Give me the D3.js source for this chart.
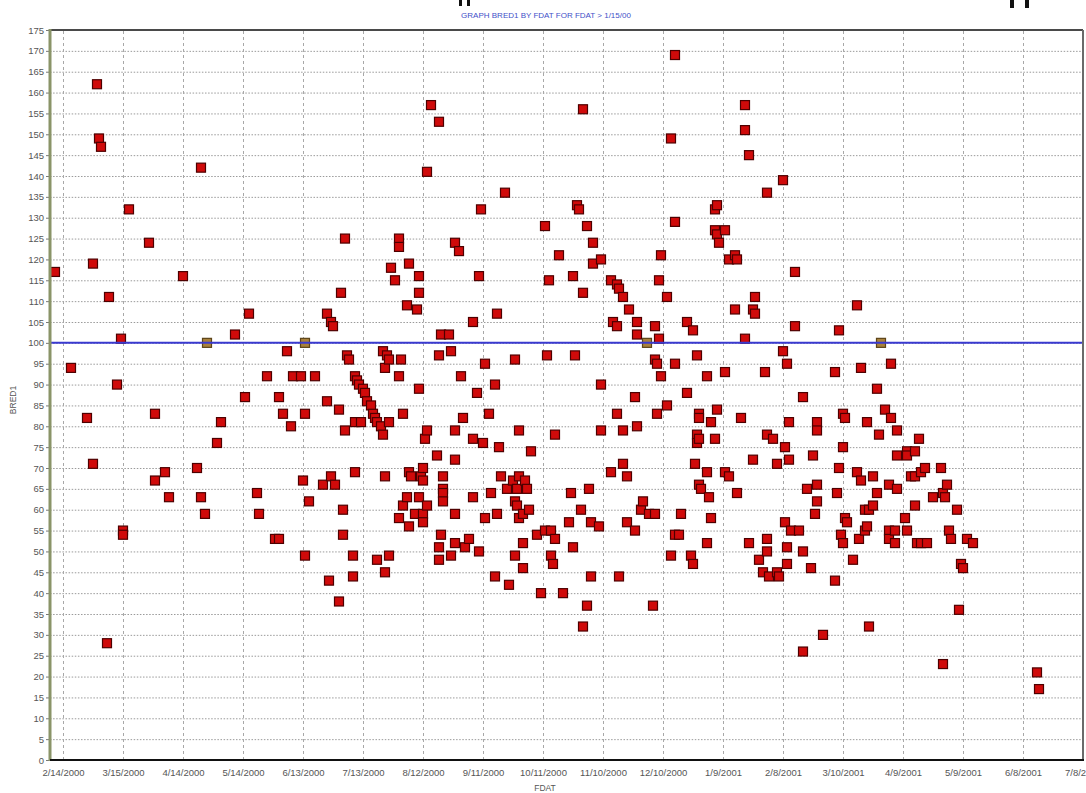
<!DOCTYPE html>
<html>
<head>
<meta charset="utf-8">
<script src="https://cdn.jsdelivr.net/npm/d3@7"></script>
<style>
  body { margin: 0; background: #fff; }
  svg { display: block; }
  text { font-family: Arial, "Liberation Sans", sans-serif; }
</style>
</head>
<body>
<div id="chart"></div>
<script>
// FDAT dates, one line per month
var fdat = [
  "2/10/2000","2/18/2000","2/26/2000","2/29/2000","2/29/2000",
  "3/2/2000","3/3/2000","3/4/2000","3/7/2000","3/8/2000","3/12/2000","3/14/2000","3/15/2000","3/15/2000","3/18/2000","3/28/2000","3/31/2000","3/31/2000",
  "4/5/2000","4/7/2000","4/14/2000","4/21/2000","4/23/2000","4/23/2000","4/25/2000","4/26/2000",
  "5/1/2000","5/3/2000","5/10/2000","5/15/2000","5/17/2000","5/21/2000","5/22/2000","5/26/2000","5/30/2000",
  "6/1/2000","6/1/2000","6/3/2000","6/5/2000","6/7/2000","6/8/2000","6/12/2000","6/13/2000","6/14/2000","6/14/2000","6/14/2000","6/16/2000","6/19/2000","6/23/2000","6/25/2000","6/25/2000","6/26/2000","6/27/2000","6/27/2000","6/28/2000","6/29/2000",
  "7/1/2000","7/1/2000","7/2/2000","7/3/2000","7/3/2000","7/4/2000","7/4/2000","7/5/2000","7/6/2000","7/8/2000","7/8/2000","7/9/2000","7/9/2000","7/9/2000","7/10/2000","7/11/2000","7/12/2000","7/13/2000","7/14/2000","7/15/2000","7/17/2000","7/18/2000","7/19/2000","7/20/2000","7/20/2000","7/22/2000","7/23/2000","7/23/2000","7/24/2000","7/24/2000","7/24/2000","7/25/2000","7/26/2000","7/26/2000","7/26/2000","7/27/2000","7/29/2000","7/31/2000","7/31/2000","7/31/2000","7/31/2000",
  "8/1/2000","8/2/2000","8/2/2000","8/4/2000","8/4/2000","8/5/2000","8/5/2000","8/5/2000","8/6/2000","8/8/2000","8/9/2000","8/10/2000","8/10/2000","8/10/2000","8/10/2000","8/11/2000","8/12/2000","8/12/2000","8/12/2000","8/12/2000","8/13/2000","8/14/2000","8/14/2000","8/14/2000","8/16/2000","8/19/2000","8/20/2000","8/20/2000","8/20/2000","8/20/2000","8/21/2000","8/21/2000","8/22/2000","8/22/2000","8/22/2000","8/22/2000","8/25/2000","8/26/2000","8/26/2000","8/28/2000","8/28/2000","8/28/2000","8/28/2000","8/28/2000","8/30/2000","8/31/2000",
  "9/1/2000","9/2/2000","9/4/2000","9/6/2000","9/6/2000","9/6/2000","9/8/2000","9/9/2000","9/9/2000","9/10/2000","9/11/2000","9/12/2000","9/12/2000","9/14/2000","9/15/2000","9/17/2000","9/17/2000","9/18/2000","9/18/2000","9/19/2000","9/20/2000","9/22/2000","9/23/2000","9/24/2000","9/26/2000","9/27/2000","9/27/2000","9/27/2000","9/28/2000","9/28/2000","9/29/2000","9/29/2000","9/29/2000",
  "10/1/2000","10/1/2000","10/1/2000","10/2/2000","10/3/2000","10/4/2000","10/5/2000","10/8/2000","10/10/2000","10/12/2000","10/12/2000","10/13/2000","10/14/2000","10/15/2000","10/15/2000","10/16/2000","10/17/2000","10/17/2000","10/19/2000","10/21/2000","10/24/2000","10/25/2000","10/26/2000","10/26/2000","10/27/2000","10/28/2000","10/29/2000","10/30/2000","10/31/2000","10/31/2000","10/31/2000",
  "11/2/2000","11/2/2000","11/3/2000","11/4/2000","11/4/2000","11/5/2000","11/5/2000","11/8/2000","11/9/2000","11/9/2000","11/9/2000","11/14/2000","11/14/2000","11/15/2000","11/17/2000","11/17/2000","11/17/2000","11/18/2000","11/18/2000","11/20/2000","11/20/2000","11/20/2000","11/22/2000","11/22/2000","11/23/2000","11/26/2000","11/26/2000","11/27/2000","11/27/2000","11/27/2000","11/29/2000","11/30/2000",
  "12/2/2000","12/3/2000","12/5/2000","12/6/2000","12/6/2000","12/6/2000","12/7/2000","12/7/2000","12/8/2000","12/8/2000","12/9/2000","12/9/2000","12/12/2000","12/12/2000","12/14/2000","12/14/2000","12/16/2000","12/16/2000","12/16/2000","12/16/2000","12/18/2000","12/19/2000","12/22/2000","12/22/2000","12/24/2000","12/25/2000","12/25/2000","12/26/2000","12/27/2000","12/27/2000","12/27/2000","12/28/2000","12/28/2000","12/28/2000","12/28/2000","12/29/2000",
  "1/1/2001","1/1/2001","1/1/2001","1/2/2001","1/3/2001","1/3/2001","1/5/2001","1/5/2001","1/5/2001","1/6/2001","1/6/2001","1/6/2001","1/7/2001","1/10/2001","1/10/2001","1/10/2001","1/12/2001","1/12/2001","1/15/2001","1/15/2001","1/16/2001","1/16/2001","1/18/2001","1/20/2001","1/20/2001","1/20/2001","1/22/2001","1/22/2001","1/24/2001","1/24/2001","1/25/2001","1/25/2001","1/27/2001","1/29/2001","1/30/2001","1/31/2001","1/31/2001","1/31/2001","1/31/2001",
  "2/1/2001","2/3/2001","2/5/2001","2/5/2001","2/6/2001","2/8/2001","2/8/2001","2/9/2001","2/9/2001","2/10/2001","2/10/2001","2/10/2001","2/11/2001","2/11/2001","2/12/2001","2/14/2001","2/14/2001","2/16/2001","2/18/2001","2/18/2001","2/18/2001","2/20/2001","2/22/2001","2/23/2001","2/24/2001","2/25/2001","2/25/2001","2/25/2001","2/25/2001","2/28/2001",
  "3/6/2001","3/6/2001","3/7/2001","3/8/2001","3/8/2001","3/9/2001","3/10/2001","3/10/2001","3/10/2001","3/11/2001","3/11/2001","3/12/2001","3/15/2001","3/17/2001","3/17/2001","3/18/2001","3/19/2001","3/19/2001","3/21/2001","3/21/2001","3/22/2001","3/22/2001","3/23/2001","3/23/2001","3/25/2001","3/25/2001","3/27/2001","3/27/2001","3/28/2001","3/29/2001","3/31/2001",
  "4/2/2001","4/2/2001","4/2/2001","4/3/2001","4/3/2001","4/5/2001","4/5/2001","4/6/2001","4/6/2001","4/6/2001","4/10/2001","4/11/2001","4/11/2001","4/11/2001","4/13/2001","4/15/2001","4/15/2001","4/15/2001","4/16/2001","4/17/2001","4/18/2001","4/18/2001","4/20/2001","4/21/2001","4/24/2001","4/28/2001","4/29/2001","4/29/2001","4/30/2001",
  "5/1/2001","5/2/2001","5/3/2001","5/6/2001","5/7/2001","5/8/2001","5/9/2001","5/11/2001","5/14/2001",
  "6/15/2001","6/16/2001"
];

// BRED1 values, same order as fdat
var bred1 = [
  117,94,82,119,71,
  162,149,147,28,111,90,101,55,54,132,124,83,67,
  69,63,116,70,142,63,59,100,
  76,81,102,87,107,64,59,92,53,
  87,53,83,98,80,92,92,67,100,83,49,62,92,66,107,86,43,105,68,104,66,
  84,38,112,60,54,125,79,97,96,49,44,69,92,81,91,90,81,89,88,86,85,83,82,81,48,80,78,98,94,68,45,97,96,81,49,118,115,92,125,123,58,
  96,83,61,109,63,119,69,56,68,59,108,116,112,89,63,68,70,67,59,57,77,141,79,61,157,73,153,97,51,48,102,54,68,65,64,62,102,98,49,124,79,72,59,52,122,92,
  82,51,53,105,77,63,88,116,50,132,76,95,58,83,64,90,44,107,59,75,68,136,65,42,67,96,62,49,65,61,79,68,58,
  59,52,46,67,65,60,74,54,40,128,55,97,115,55,49,47,78,53,121,40,57,64,116,51,97,133,132,60,156,112,32,
  128,37,65,57,44,124,119,56,120,90,79,115,69,105,114,104,83,113,44,111,79,71,68,57,108,87,55,105,102,80,60,62,
  100,59,37,104,96,59,95,83,115,101,121,92,111,85,149,49,169,129,95,54,54,59,105,88,49,103,47,71,97,78,76,83,82,77,66,65,
  92,69,52,63,81,58,132,127,77,133,126,84,124,127,93,69,120,68,121,108,120,64,82,157,151,101,145,52,108,72,111,107,48,45,93,136,78,53,50,
  44,77,71,45,44,139,98,75,57,95,51,47,81,72,55,117,104,55,87,50,26,65,46,73,59,81,79,66,62,30,
  93,43,64,103,70,54,83,75,52,82,58,57,48,109,69,53,94,67,60,55,81,56,60,32,68,61,89,64,78,100,84,
  66,55,53,95,82,55,52,79,73,65,58,74,73,55,68,74,68,61,52,77,69,52,70,52,63,70,64,23,63,
  66,55,53,60,36,47,46,53,52,
  21,17
];

var xTickLabels = ["2/14/2000","3/15/2000","4/14/2000","5/14/2000","6/13/2000","7/13/2000","8/12/2000","9/11/2000",
  "10/11/2000","11/10/2000","12/10/2000","1/9/2001","2/8/2001","3/10/2001","4/9/2001","5/9/2001","6/8/2001","7/8/2001"];
var yTickValues = [0,5,10,15,20,25,30,35,40,45,50,55,60,65,70,75,80,85,90,95,100,105,110,115,120,125,130,135,140,145,150,155,160,165,170,175];
var refValue = 100;
var chartTitle = "GRAPH BRED1 BY FDAT FOR FDAT > 1/15/00";

(function () {
  var W = 1086, H = 793;
  var plotLeft = 50, plotRight = 1083, plotTop = 30, plotBottom = 760;

  var parse = d3.timeParse("%m/%d/%Y");
  var fmt = d3.timeFormat("%-m/%-d/%Y");
  var xTicks = xTickLabels.map(parse);

  var x = d3.scaleTime()
    .domain([xTicks[0], xTicks[xTicks.length - 1]])
    .range([63, plotRight]);
  var y = d3.scaleLinear().domain([0, 175]).range([plotBottom, plotTop]);

  var points = fdat.map(function (d, i) { return { date: parse(d), value: bred1[i] }; });

  var svg = d3.select("#chart").append("svg")
    .attr("width", W)
    .attr("height", H);

  svg.append("rect").attr("width", W).attr("height", H).attr("fill", "#fff");

  // scraps of something above the crop
  [[459, 0, 3, 6], [467, 0, 3, 6], [1010, 0, 4, 8], [1025, 0, 4, 8]].forEach(function (r) {
    svg.append("rect").attr("x", r[0]).attr("y", r[1]).attr("width", r[2]).attr("height", r[3]).attr("fill", "#111");
  });

  // grid
  var gy = svg.append("g")
    .attr("transform", "translate(" + plotLeft + ",0)")
    .call(d3.axisLeft(y).tickValues(yTickValues.slice(1, -1)).tickSize(-(plotRight - plotLeft)).tickFormat(""));
  gy.select(".domain").remove();
  gy.selectAll("line").attr("stroke", "#9a9a9a").attr("stroke-dasharray", "1.5,1.6");

  var gx = svg.append("g")
    .attr("transform", "translate(0," + plotBottom + ")")
    .call(d3.axisBottom(x).tickValues(xTicks.slice(0, -1)).tickSize(-(plotBottom - plotTop)).tickFormat(""));
  gx.select(".domain").remove();
  gx.selectAll("line").attr("stroke", "#a8a8a8").attr("stroke-dasharray", "3,3");

  // points
  svg.append("g").selectAll("rect")
    .data(points)
    .enter().append("rect")
    .attr("x", function (d) { return x(d.date) - 4.5; })
    .attr("y", function (d) { return y(d.value) - 4.5; })
    .attr("width", 9)
    .attr("height", 9)
    .attr("fill", function (d) { return d.value === refValue ? "#a8813c" : "#d00a0a"; })
    .attr("stroke", function (d) { return d.value === refValue ? "#5c4418" : "#4d0000"; })
    .attr("stroke-width", 1.2);

  // reference line
  svg.append("line")
    .attr("x1", plotLeft).attr("x2", plotRight)
    .attr("y1", y(refValue)).attr("y2", y(refValue))
    .attr("stroke", "#3a3ad0")
    .attr("stroke-width", 2);

  // frame
  svg.append("line").attr("x1", plotLeft).attr("x2", plotRight).attr("y1", plotTop).attr("y2", plotTop)
    .attr("stroke", "#4a4a4a").attr("stroke-width", 2);
  svg.append("line").attr("x1", plotRight).attr("x2", plotRight).attr("y1", plotTop).attr("y2", plotBottom)
    .attr("stroke", "#6a6a6a").attr("stroke-width", 2);

  // axes
  var yAxis = svg.append("g")
    .attr("transform", "translate(" + plotLeft + ",0)")
    .call(d3.axisLeft(y).tickValues(yTickValues).tickSize(4).tickPadding(2));
  yAxis.select(".domain").remove();
  yAxis.selectAll("line").attr("stroke", "#777");
  yAxis.selectAll("text").attr("fill", "#555").style("font-size", "9.5px");

  svg.append("line").attr("x1", plotLeft).attr("x2", plotLeft).attr("y1", plotTop - 1).attr("y2", plotBottom + 1)
    .attr("stroke", "#8a9468").attr("stroke-width", 3);

  var xAxis = svg.append("g")
    .attr("transform", "translate(0," + plotBottom + ")")
    .call(d3.axisBottom(x).tickValues(xTicks).tickFormat(fmt).tickSize(0).tickPadding(9));
  xAxis.select(".domain").remove();
  xAxis.selectAll("text").attr("fill", "#555").style("font-size", "9.5px");

  svg.append("line").attr("x1", plotLeft).attr("x2", plotRight + 1).attr("y1", plotBottom).attr("y2", plotBottom)
    .attr("stroke", "#111").attr("stroke-width", 2);

  // titles
  svg.append("text")
    .attr("x", 546).attr("y", 18)
    .attr("text-anchor", "middle")
    .attr("fill", "#3f4fc8")
    .style("font-size", "8px")
    .text(chartTitle);

  svg.append("text")
    .attr("x", 545).attr("y", 791)
    .attr("text-anchor", "middle")
    .attr("fill", "#555")
    .style("font-size", "8.5px")
    .text("FDAT");

  svg.append("text")
    .attr("transform", "translate(16,400) rotate(-90)")
    .attr("text-anchor", "middle")
    .attr("fill", "#555")
    .style("font-size", "8.5px")
    .text("BRED1");
})();
</script>
</body>
</html>
